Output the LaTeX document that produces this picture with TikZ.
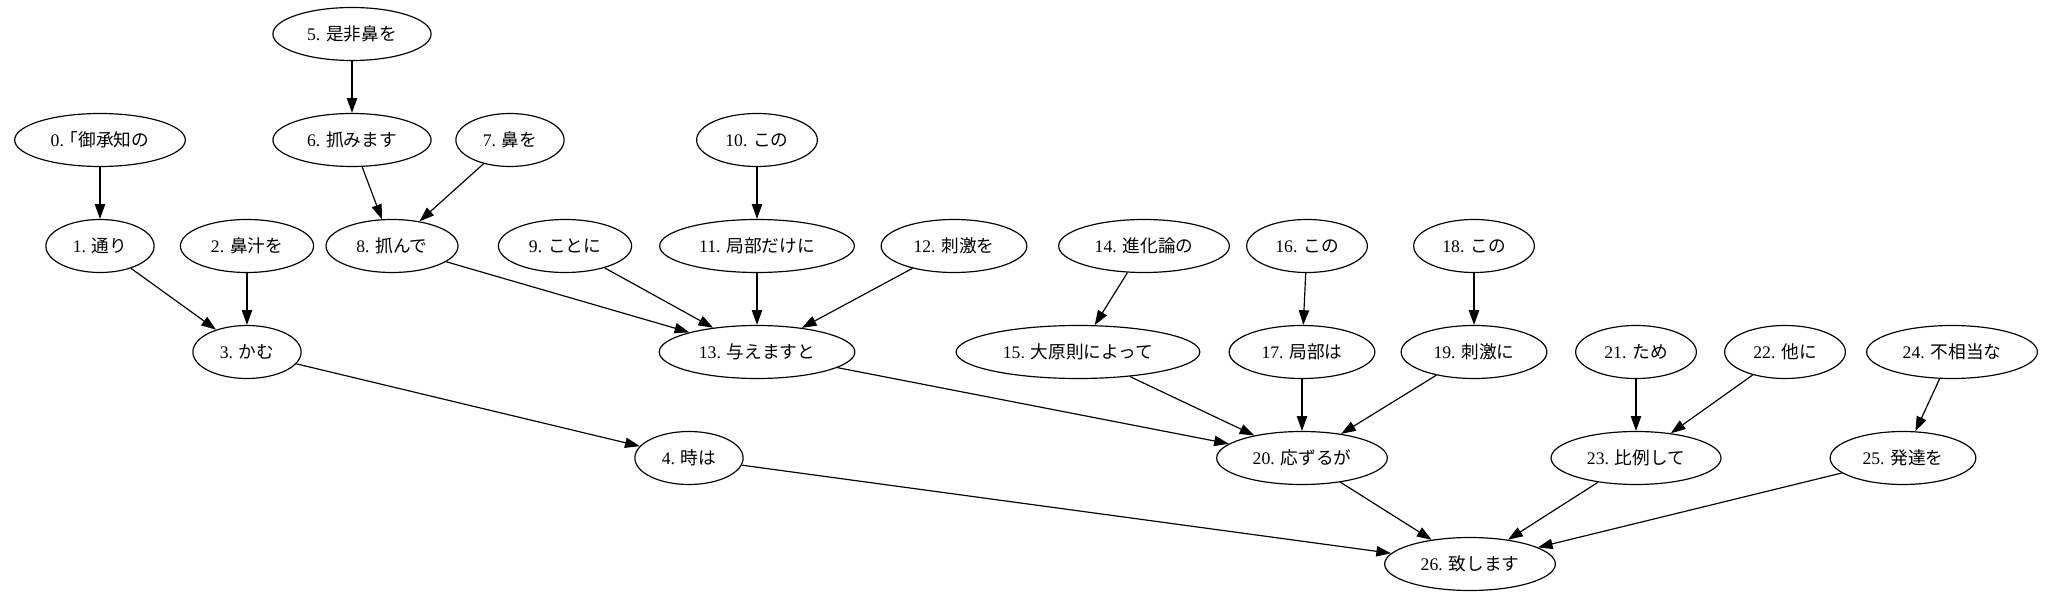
\documentclass[tikz,border=0pt]{standalone}
\usepackage{fontspec}
\setmainfont{Liberation Serif}
\newfontfamily\jp[RawFeature=+halt]{Noto Sans CJK JP}
\usepackage{tikz}
\usetikzlibrary{shapes.geometric, arrows.meta}

\newcommand{\wlabel}[2]{#1. {\jp #2}}

\begin{document}
\begin{tikzpicture}[
    x=0.6793pt, y=-0.6793pt,
    word/.style={ellipse, draw, line width=0.8pt, minimum height=36pt, inner xsep=7.5pt, inner ysep=2pt, font=\fontsize{12}{14}\selectfont},
    arrow/.style={-{Triangle[length=10pt, width=7pt]}, line width=0.8pt}
]
\useasboundingbox (0,0) rectangle (2047,599);

% rank 0
\node[word] (n5) at (352,34) {\wlabel{5}{是非鼻を}};

% rank 1
\node[word] (n0) at (100,140) {\wlabel{0}{「御承知の}};
\node[word] (n6) at (352,140) {\wlabel{6}{抓みます}};
\node[word] (n7) at (510,140) {\wlabel{7}{鼻を}};
\node[word] (n10) at (757,140) {\wlabel{10}{この}};

% rank 2
\node[word] (n1) at (100,246) {\wlabel{1}{通り}};
\node[word] (n2) at (247,246) {\wlabel{2}{鼻汁を}};
\node[word] (n8) at (392,246) {\wlabel{8}{抓んで}};
\node[word] (n9) at (565,246) {\wlabel{9}{ことに}};
\node[word] (n11) at (757,246) {\wlabel{11}{局部だけに}};
\node[word] (n12) at (954,246) {\wlabel{12}{刺激を}};
\node[word] (n14) at (1144,246) {\wlabel{14}{進化論の}};
\node[word] (n16) at (1307,246) {\wlabel{16}{この}};
\node[word] (n18) at (1474,246) {\wlabel{18}{この}};

% rank 3
\node[word] (n3) at (247,352) {\wlabel{3}{かむ}};
\node[word] (n13) at (757,352) {\wlabel{13}{与えますと}};
\node[word] (n15) at (1078,352) {\wlabel{15}{大原則によって}};
\node[word] (n17) at (1302,352) {\wlabel{17}{局部は}};
\node[word] (n19) at (1474,352) {\wlabel{19}{刺激に}};
\node[word] (n21) at (1636,352) {\wlabel{21}{ため}};
\node[word] (n22) at (1785,352) {\wlabel{22}{他に}};
\node[word] (n24) at (1952,352) {\wlabel{24}{不相当な}};

% rank 4
\node[word] (n4) at (689,458) {\wlabel{4}{時は}};
\node[word] (n20) at (1302,458) {\wlabel{20}{応ずるが}};
\node[word] (n23) at (1636,458) {\wlabel{23}{比例して}};
\node[word] (n25) at (1903,458) {\wlabel{25}{発達を}};

% rank 5
\node[word] (n26) at (1470,564) {\wlabel{26}{致します}};

% Arrows
\draw[arrow] (n0) -- (n1);
\draw[arrow] (n1) -- (n3);
\draw[arrow] (n2) -- (n3);
\draw[arrow] (n3) -- (n4);
\draw[arrow] (n4) -- (n26);
\draw[arrow] (n5) -- (n6);
\draw[arrow] (n6) -- (n8);
\draw[arrow] (n7) -- (n8);
\draw[arrow] (n8) -- (n13);
\draw[arrow] (n9) -- (n13);
\draw[arrow] (n10) -- (n11);
\draw[arrow] (n11) -- (n13);
\draw[arrow] (n12) -- (n13);
\draw[arrow] (n13) -- (n20);
\draw[arrow] (n14) -- (n15);
\draw[arrow] (n15) -- (n20);
\draw[arrow] (n16) -- (n17);
\draw[arrow] (n17) -- (n20);
\draw[arrow] (n18) -- (n19);
\draw[arrow] (n19) -- (n20);
\draw[arrow] (n20) -- (n26);
\draw[arrow] (n21) -- (n23);
\draw[arrow] (n22) -- (n23);
\draw[arrow] (n23) -- (n26);
\draw[arrow] (n24) -- (n25);
\draw[arrow] (n25) -- (n26);
\end{tikzpicture}
\end{document}
